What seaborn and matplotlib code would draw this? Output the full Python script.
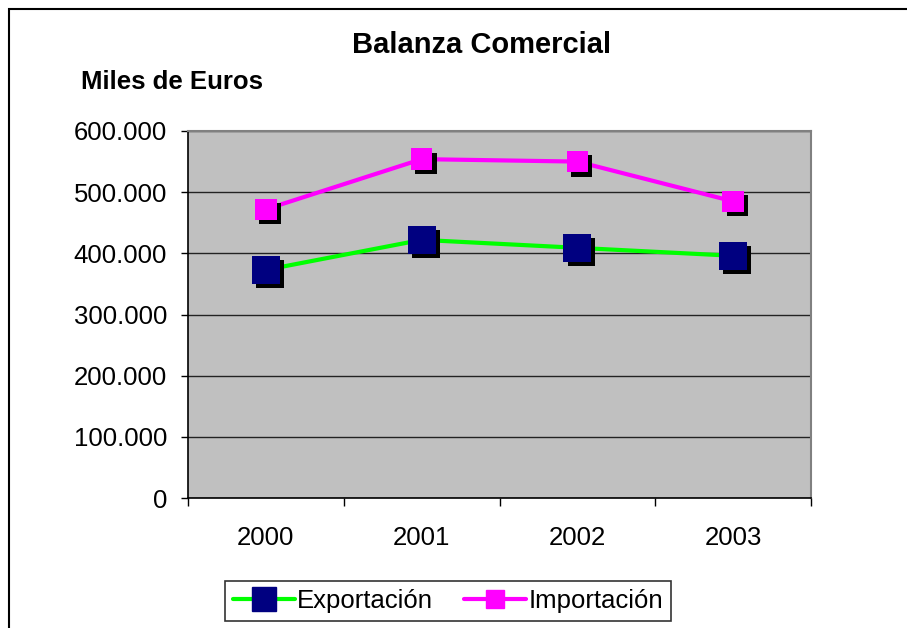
import matplotlib
matplotlib.use("Agg")
import pandas as pd
import seaborn as sns
import matplotlib.pyplot as plt
import matplotlib.patheffects as pe
from matplotlib.lines import Line2D
from matplotlib.patches import Rectangle
from matplotlib.ticker import FuncFormatter, FixedLocator

# data (miles de euros)
years = ["2000", "2001", "2002", "2003"]
exportacion = [373000, 422000, 409000, 396000]
importacion = [472000, 554000, 550000, 485000]
series_names = ["Exportación", "Importación"]

line_colors = {"Exportación": "#00FF00", "Importación": "#FF00FF"}
marker_colors = {"Exportación": "#000080", "Importación": "#FF00FF"}
marker_sizes = {"Exportación": 20, "Importación": 15.5}

df = pd.DataFrame({
    "year": years * 2,
    "value": exportacion + importacion,
    "serie": [series_names[0]] * 4 + [series_names[1]] * 4,
})

sns.set_style("white")
plt.rcParams["font.family"] = ["Liberation Sans", "DejaVu Sans"]
plt.rcParams["text.color"] = "black"
plt.rcParams["xtick.color"] = "black"
plt.rcParams["ytick.color"] = "black"

fig = plt.figure(figsize=(9.07, 6.28), dpi=100)
ax = fig.add_axes([188 / 907, 1 - 498 / 628, (811 - 188) / 907, (498 - 131) / 628])
ax.set_facecolor("#C0C0C0")

# lines
sns.lineplot(data=df, x="year", y="value", hue="serie", palette=line_colors,
             linewidth=3, legend=False, ax=ax, zorder=3)

# markers with drop shadow
for name in series_names:
    sub = df[df["serie"] == name]
    sns.scatterplot(data=sub, x="year", y="value", marker="s",
                    s=marker_sizes[name] ** 2, color=marker_colors[name],
                    edgecolor="none", linewidth=0, legend=False, ax=ax, zorder=4,
                    path_effects=[pe.SimplePatchShadow(offset=(3, -3), shadow_rgbFace="black", alpha=1),
                                  pe.Normal()])

ax.set_xlim(-0.5, 3.5)
ax.set_ylim(0, 600000)
ax.set_yticks(range(0, 600001, 100000))
ax.yaxis.set_major_formatter(FuncFormatter(lambda v, p: f"{v:,.0f}".replace(",", ".")))
ax.grid(axis="y", color="#222222", linewidth=1)
ax.set_axisbelow(True)
ax.set_xlabel("")
ax.set_ylabel("")

ax.xaxis.set_minor_locator(FixedLocator([-0.5, 0.5, 1.5, 2.5, 3.5]))
ax.tick_params(axis="x", which="major", length=0, pad=20, labelsize=18.5, labelcolor="black")
ax.tick_params(axis="x", which="minor", length=6, width=1, color="black", direction="out", bottom=True)
ax.tick_params(axis="y", length=5, width=1, color="black", direction="out", left=True, pad=10,
               labelsize=18.5, labelcolor="black")

for side in ["left", "bottom"]:
    ax.spines[side].set_color("black")
    ax.spines[side].set_linewidth(1.2)
for side in ["top", "right"]:
    ax.spines[side].set_color("#808080")
    ax.spines[side].set_linewidth(1.5)

fig.text(482 / 907, 1 - 45 / 628, "Balanza Comercial", ha="center", va="center",
         fontsize=21, fontweight="bold", color="black")
fig.text(81 / 907, 1 - 82 / 628, "Miles de Euros", ha="left", va="center",
         fontsize=18.5, fontweight="bold", color="black")

handles = [Line2D([], [], color=line_colors[n], linewidth=3, marker="s",
                  markersize=marker_sizes[n] * 0.85, markerfacecolor=marker_colors[n],
                  markeredgecolor=marker_colors[n]) for n in series_names]
leg = fig.legend(handles, series_names, loc="center", bbox_to_anchor=(448 / 907, 1 - 601 / 628),
                 ncol=2, fontsize=18.5, frameon=True, fancybox=False, handlelength=2.4,
                 handletextpad=0.1, columnspacing=1.2, borderpad=0.3)
leg.get_frame().set_edgecolor("black")
leg.get_frame().set_linewidth(1.2)
for t in leg.get_texts():
    t.set_color("black")

# outer chart border (only left and top visible)
fig.patches.append(Rectangle((8.5 / 907, -0.1), 1.2, 1 - 9.5 / 628 + 0.1,
                             transform=fig.transFigure, fill=False,
                             edgecolor="black", linewidth=1.5))

fig.savefig("out.png", dpi=100, facecolor="white")
